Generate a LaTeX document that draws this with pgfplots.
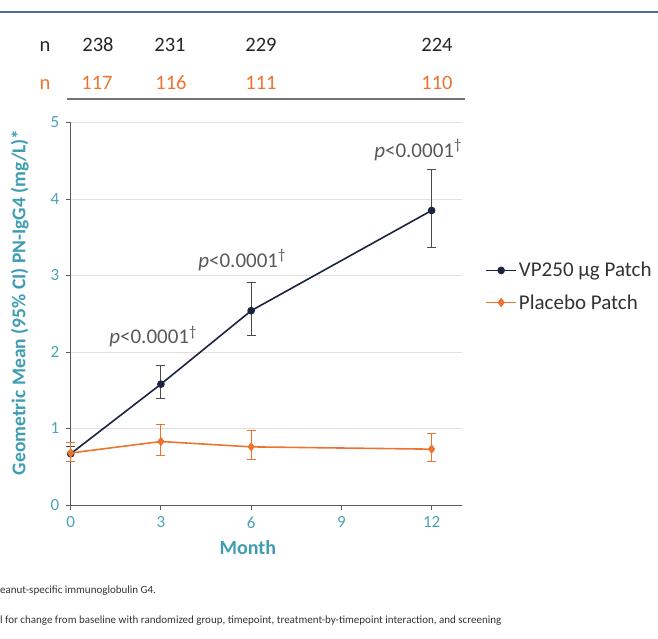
\documentclass[border=0pt]{standalone}
\usepackage{pgfplots}
\pgfplotsset{compat=1.18}
\usepackage{fontspec}
\setmainfont{Carlito}

\definecolor{vpnavy}{HTML}{1B2440}
\definecolor{plorange}{HTML}{EE7330}
\definecolor{tickteal}{HTML}{4AA3B8}
\definecolor{labteal}{HTML}{3E9DB3}
\definecolor{hdrblue}{HTML}{4D6E9E}
\definecolor{gridc}{HTML}{E8DCDC}
\definecolor{axisc}{HTML}{5A5A5A}
\definecolor{ptext}{HTML}{595959}
\definecolor{errgray}{HTML}{4A4A4A}

\begin{document}
\begin{tikzpicture}
% overall page frame (1pt per pixel)
\useasboundingbox (-70.7pt,-133pt) rectangle (587.3pt,505pt);

% header rule
\draw[hdrblue, line width=1.5pt] (-70.7pt,493pt) -- (587.3pt,493pt);

% number-at-risk rows
\begin{scope}[every node/.style={font=\fontsize{20.5}{22}\selectfont, anchor=base, inner sep=0pt}]
  \node[text=black!85] at (-25.7pt,453pt) {n};
  \node[text=black!85] at (27.3pt,453pt) {238};
  \node[text=black!85] at (99.3pt,453pt) {231};
  \node[text=black!85] at (190.3pt,453pt) {229};
  \node[text=black!85] at (366.3pt,453pt) {224};
  \node[text=plorange] at (-25.7pt,415pt) {n};
  \node[text=plorange] at (26.3pt,415pt) {117};
  \node[text=plorange] at (100.3pt,415pt) {116};
  \node[text=plorange] at (190.3pt,415pt) {111};
  \node[text=plorange] at (366.3pt,415pt) {110};
\end{scope}
\draw[black!55, line width=1.2pt] (-3.7pt,406pt) -- (394.3pt,406pt);

\begin{axis}[
  at={(0,0)}, anchor=south west,
  scale only axis, width=391pt, height=382.5pt,
  xmin=0, xmax=13, ymin=0, ymax=5,
  axis x line*=bottom, axis y line*=left,
  axis line style={axisc, line width=0.9pt},
  xtick={0,3,6,9,12}, ytick={0,1,2,3,4,5},
  tick align=outside, major tick length=5pt,
  tick style={axisc, line width=0.9pt},
  ymajorgrids, grid style={gridc, line width=0.9pt},
  ticklabel style={font=\fontsize{17}{19}\selectfont, text=tickteal},
  /pgf/number format/assume math mode=true,
  xticklabel style={yshift=-3pt},
  yticklabel style={xshift=-3pt},
  xlabel={Month},
  xlabel style={font=\bfseries\fontsize{20}{22}\selectfont, text=labteal,
    at={(axis description cs:0.453,-0.11)}, anchor=center},
  ylabel={Geometric Mean (95\% CI) PN-IgG4 (mg/L)*},
  ylabel style={font=\bfseries\fontsize{19.5}{21}\selectfont, text=labteal,
    at={(axis description cs:-0.13,0.53)}, anchor=center},
  clip=false,
  legend cell align=left,
  legend style={at={(axis description cs:1.06,0.64)}, anchor=north west,
    draw=none, fill=none, font=\fontsize{21}{24}\selectfont, text=black!80,
    row sep=12pt, inner sep=0pt},
  legend image code/.code={%
    \draw[mark repeat=2,mark phase=2,#1] plot coordinates {(0pt,0pt) (15pt,0pt) (30pt,0pt)};},
]

\addplot[vpnavy, line width=1.6pt, mark=*, mark size=3pt,
  error bars/.cd, y dir=both, y explicit,
  error bar style={errgray, line width=1pt},
  error mark options={rotate=90, mark size=4.5pt, errgray, line width=1pt}]
  coordinates {
    (0,0.67)  +- (0,0.10)
    (3,1.58)  +=(0,0.24) -=(0,0.19)
    (6,2.54)  +=(0,0.37) -=(0,0.33)
    (12,3.85) +=(0,0.54) -=(0,0.48)
  };
\addlegendentry{VP250 µg Patch}

\addplot[plorange, line width=1.6pt, mark=diamond*, mark size=3.5pt,
  error bars/.cd, y dir=both, y explicit,
  error bar style={plorange, line width=0.9pt},
  error mark options={rotate=90, mark size=4.5pt, plorange, line width=0.9pt}]
  coordinates {
    (0,0.68)  +=(0,0.14) -=(0,0.11)
    (3,0.83)  +=(0,0.22) -=(0,0.18)
    (6,0.76)  +=(0,0.21) -=(0,0.16)
    (12,0.73) +=(0,0.21) -=(0,0.16)
  };
\addlegendentry{Placebo Patch}

% significance labels
\begin{scope}[every node/.style={font=\fontsize{21}{23}\selectfont, text=ptext}]
  \node at (axis cs:2.74,2.20) {\textit{p}<0.0001\textsuperscript{†}};
  \node at (axis cs:5.70,3.20) {\textit{p}<0.0001\textsuperscript{†}};
  \node at (axis cs:11.55,4.64) {\textit{p}<0.0001\textsuperscript{†}};
\end{scope}
\end{axis}

% footnotes
\begin{scope}[every node/.style={font=\fontsize{11}{13}\selectfont, anchor=base west, inner sep=0pt, text=black!80}]
  \node at (-70.7pt,-88pt) {eanut-specific immunoglobulin G4.};
  \node at (-70.7pt,-118pt) {l for change from baseline with randomized group, timepoint, treatment-by-timepoint interaction, and screening};
\end{scope}
\end{tikzpicture}
\end{document}
